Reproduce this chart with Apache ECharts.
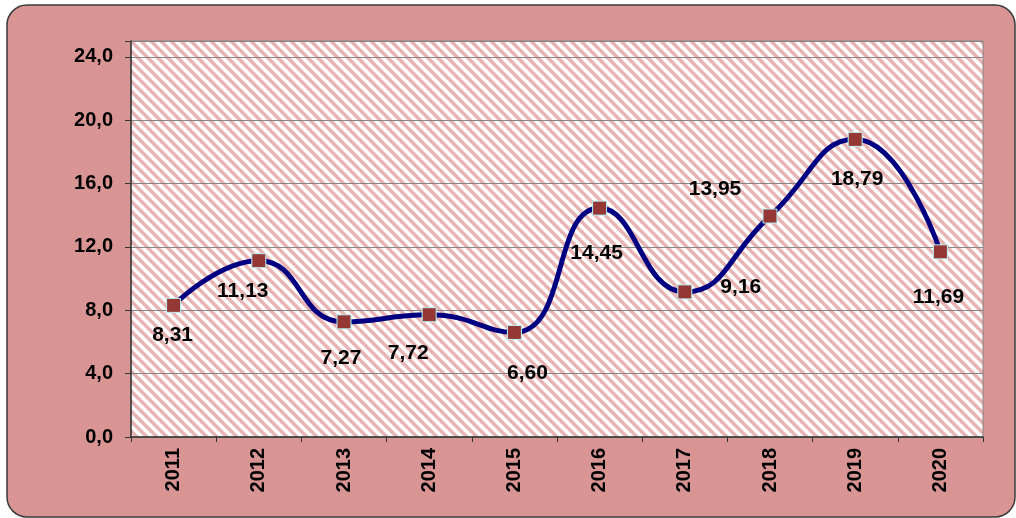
<!DOCTYPE html>
<html>
<head>
<meta charset="utf-8">
<script src="https://cdn.jsdelivr.net/npm/echarts@6/dist/echarts.min.js"></script>
<style>
html, body { margin: 0; padding: 0; background: #ffffff; }
#chart { width: 1016px; height: 518px; }
</style>
</head>
<body>
<div id="chart"></div>
<script>
// data
var years = ["2011", "2012", "2013", "2014", "2015", "2016", "2017", "2018", "2019", "2020"];
var values = [8.31, 11.13, 7.27, 7.72, 6.60, 14.45, 9.16, 13.95, 18.79, 11.69];

// where each value label sits relative to its marker (px)
var labelOffsets = [
    [-1, 30], [-16, 31], [-3, 36], [-21, 38], [13, 41],
    [-3, 45], [56, -5], [-55, -27], [2, 40], [-2, 45]
];

function comma(v, d) {
    return v.toFixed(d).replace(".", ",");
}

// diagonal hatch for the plot area
function hatch() {
    var n = 10;
    var c = document.createElement("canvas");
    c.width = n;
    c.height = n;
    var ctx = c.getContext("2d");
    ctx.fillStyle = "#ffffff";
    ctx.fillRect(0, 0, n, n);
    ctx.strokeStyle = "#e8b4b3";
    ctx.lineWidth = 3.6;
    for (var k = -n; k <= n; k += n) {
        ctx.beginPath();
        ctx.moveTo(k - 1, -1);
        ctx.lineTo(k + n + 1, n + 1);
        ctx.stroke();
    }
    return c;
}

var seriesData = values.map(function (v, i) {
    return {
        value: v,
        label: { offset: labelOffsets[i] }
    };
});

var chart = echarts.init(document.getElementById("chart"));
var font = "'Liberation Sans', Arial, sans-serif";

chart.setOption({
    animation: false,
    graphic: [{
        type: "rect",
        z: -10,
        silent: true,
        shape: { x: 7, y: 5, width: 1008, height: 512, r: 20 },
        style: { fill: "#d99594", stroke: "#3a3a3a", lineWidth: 1.5 }
    }],
    grid: {
        left: 131,
        right: 33,
        top: 41,
        bottom: 81,
        show: true,
        backgroundColor: { image: hatch(), repeat: "repeat" },
        borderColor: "#868686",
        borderWidth: 1
    },
    xAxis: {
        type: "category",
        data: years,
        boundaryGap: true,
        axisLine: { lineStyle: { color: "#333333", width: 1.5 } },
        axisTick: { show: true, length: 5, lineStyle: { color: "#333333" } },
        axisLabel: {
            rotate: 90,
            margin: 11,
            color: "#000000",
            fontFamily: font,
            fontWeight: "bold",
            fontSize: 20
        }
    },
    yAxis: {
        type: "value",
        min: 0,
        max: 25,
        interval: 4,
        axisLine: { show: true, lineStyle: { color: "#333333", width: 1.5 } },
        axisTick: { show: true, length: 6, lineStyle: { color: "#333333" } },
        splitLine: { lineStyle: { color: "#868686", width: 1 } },
        axisLabel: {
            margin: 18,
            color: "#000000",
            fontFamily: font,
            fontWeight: "bold",
            fontSize: 20,
            formatter: function (v) {
                return v > 24 ? "" : comma(v, 1);
            }
        }
    },
    series: [{
        type: "line",
        data: seriesData,
        smooth: 0.5,
        symbol: "rect",
        symbolSize: 14,
        lineStyle: { color: "#000080", width: 5 },
        itemStyle: { color: "#953735", borderColor: "#b8f2f2", borderWidth: 1 },
        label: {
            show: true,
            position: "inside",
            color: "#000000",
            fontFamily: font,
            fontWeight: "bold",
            fontSize: 21,
            formatter: function (p) {
                return comma(p.value, 2);
            }
        }
    }]
});
</script>
</body>
</html>
